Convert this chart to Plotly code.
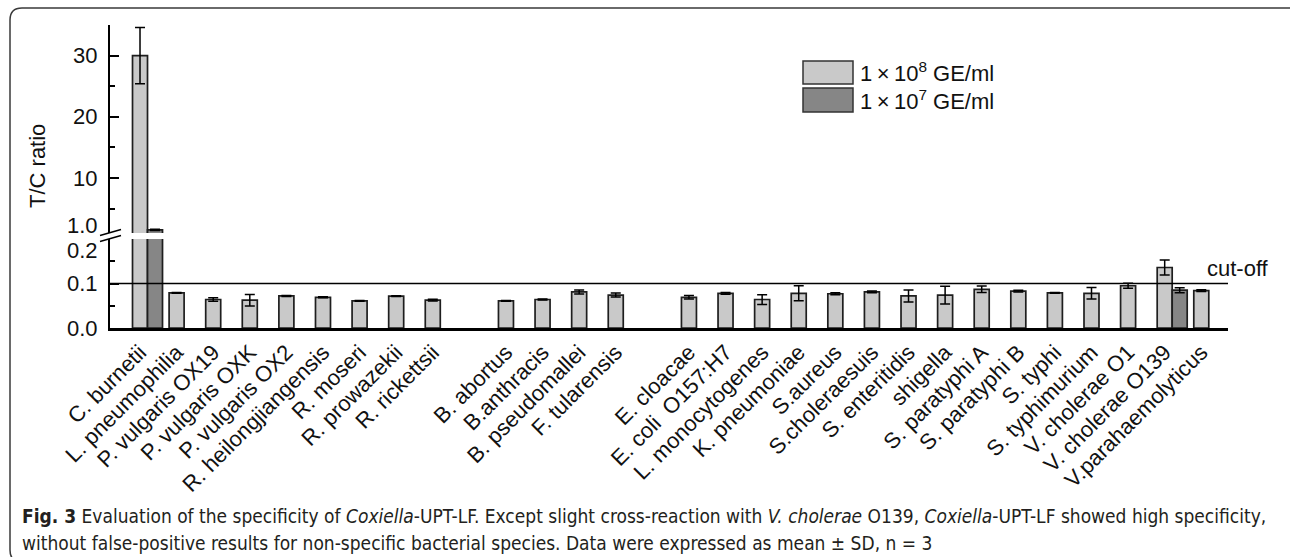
import plotly.graph_objects as go

# ---------------- data ----------------
categories = [
    "C. burnetii", "L. pneumophilia", "P. vulgaris OX19", "P. vulgaris OXK",
    "P. vulgaris OX2", "R. heilongjiangensis", "R. moseri", "R. prowazekii",
    "R. rickettsii", "", "B. abortus", "B.anthracis", "B. pseudomallei",
    "F. tularensis", "", "E. cloacae", "E. coli  O157:H7", "L. monocytogenes",
    "K. pneumoniae", "S.aureus", "S.choleraesuis", "S. enteritidis", "shigella",
    "S. paratyphi A", "S. paratyphi B", "S. typhi", "S. typhimurium",
    "V. cholerae O1", "V. cholerae O139", "V.parahaemolyticus",
]
high_vals = [30.0, 0.079, 0.064, 0.0625, 0.072, 0.069, 0.061, 0.0716, 0.0625, None,
             0.061, 0.064, 0.081, 0.074, None, 0.069, 0.078, 0.064, 0.078, 0.077,
             0.081, 0.072, 0.074, 0.087, 0.083, 0.079, 0.078, 0.095, 0.136, 0.084]
high_err = [4.6, 0.001, 0.004, 0.013, 0.001, 0.001, 0.001, 0.001, 0.002, 0,
            0.001, 0.001, 0.0045, 0.0045, 0, 0.004, 0.002, 0.011, 0.017, 0.002,
            0.002, 0.0135, 0.02, 0.0075, 0.002, 0.001, 0.013, 0.0056, 0.017, 0.002]
low_vals = [1.5] + [None] * 27 + [0.085, None]
low_err = [0.1] + [0] * 27 + [0.0056, 0]
series_names = ["1\u2009×\u200910<sup>8</sup> GE/ml", "1\u2009×\u200910<sup>7</sup> GE/ml"]
lower_ticks = [0, 0.1]
lower_ticktext = ["0.0", "0.1"]
upper_ticks = [10, 20, 30]
upper_ticktext = ["10", "20", "30"]
break_labels = ["1.0", "0.2"]
cutoff = 0.1

# ---------------- layout helpers ----------------
W, H = 1290, 557
L, R, T, B = 110, 62, 25, 229
PW, PH = W - L - R, H - T - B


def px(x):
    return (x - L) / PW


def py(y):
    return (H - B - y) / PH


LIGHT = "#c9c9c9"
DARK = "#868686"
EDGE = "#1e1e1e"
FONT = '"Liberation Sans", Arial, sans-serif'
BW = 0.41

xs = list(range(len(categories)))
tick_x = [i for i, c in enumerate(categories) if c]
tick_t = [c for c in categories if c]

fig = go.Figure()
for yax in ("y", "y2"):
    fig.add_trace(go.Bar(
        x=xs, y=high_vals, width=BW, offset=-BW / 2, xaxis="x", yaxis=yax,
        marker=dict(color=LIGHT, line=dict(color=EDGE, width=1.7)),
        error_y=dict(type="data", array=high_err, color="black", thickness=1.5, width=5),
        showlegend=False, name=series_names[0]))
    fig.add_trace(go.Bar(
        x=xs, y=low_vals, width=BW, offset=BW / 2, xaxis="x", yaxis=yax,
        marker=dict(color=DARK, line=dict(color=EDGE, width=1.7)),
        error_y=dict(type="data", array=low_err, color="black", thickness=1.5, width=5),
        showlegend=False, name=series_names[1]))

lo_top = py(239)
hi_bot = py(233)
axis_common = dict(showline=True, linewidth=2, linecolor="black", ticks="inside",
                   tickwidth=2, ticklen=9, tickcolor="black", showgrid=False,
                   zeroline=False, tickfont=dict(size=22, color="#111", family=FONT),
                   ticklabelstandoff=6)

fig.update_layout(
    width=W, height=H, margin=dict(l=L, r=R, t=T, b=B),
    paper_bgcolor="white", plot_bgcolor="white", barmode="overlay",
    font=dict(family=FONT, color="#111"),
    xaxis=dict(domain=[0, 1], range=[-0.82, 29.73], anchor="y", showline=True,
               linewidth=2.5, linecolor="black", ticks="", showgrid=False,
               zeroline=False, tickmode="array", tickvals=tick_x, ticktext=tick_t,
               tickangle=-45, tickfont=dict(size=22, color="#111", family=FONT)),
    yaxis=dict(domain=[0, lo_top], range=[0, 0.2], anchor="x", tickmode="array",
               tickvals=lower_ticks, ticktext=lower_ticktext,
               minor=dict(tickvals=[0.05, 0.15], ticks="inside", ticklen=5,
                          tickwidth=2, tickcolor="black"),
               **axis_common),
    yaxis2=dict(domain=[hi_bot, 1], range=[1, 35], anchor="x", tickmode="array",
                tickvals=upper_ticks, ticktext=upper_ticktext,
                minor=dict(tickvals=[5, 15, 25, 35], ticks="inside", ticklen=5,
                           tickwidth=2, tickcolor="black"),
                **axis_common),
)

shapes = []
# cut-off line
shapes.append(dict(type="line", xref="x domain", yref="y", x0=0, x1=1, y0=cutoff, y1=cutoff,
                   line=dict(color="black", width=1.6), layer="above"))
# axis break marks
for (y0, y1) in ((235.5, 229.5), (241.5, 235.5)):
    shapes.append(dict(type="line", xref="paper", yref="paper", x0=px(100), x1=px(121),
                       y0=py(y0), y1=py(y1), line=dict(color="black", width=1.5)))
# legend boxes
shapes.append(dict(type="rect", xref="paper", yref="paper", x0=px(803), x1=px(853),
                   y0=py(84), y1=py(61), fillcolor=LIGHT, line=dict(color="#333", width=1.5)))
shapes.append(dict(type="rect", xref="paper", yref="paper", x0=px(803), x1=px(853),
                   y0=py(112), y1=py(88), fillcolor=DARK, line=dict(color="#333", width=1.5)))
# rounded frame
fx0, fy0, fx1, fy1, r = 10, 8, 1300, 562, 12
path = (f"M {px(fx0 + r)},{py(fy0)} L {px(fx1 - r)},{py(fy0)} "
        f"Q {px(fx1)},{py(fy0)} {px(fx1)},{py(fy0 + r)} "
        f"L {px(fx1)},{py(fy1 - r)} Q {px(fx1)},{py(fy1)} {px(fx1 - r)},{py(fy1)} "
        f"L {px(fx0 + r)},{py(fy1)} Q {px(fx0)},{py(fy1)} {px(fx0)},{py(fy1 - r)} "
        f"L {px(fx0)},{py(fy0 + r)} Q {px(fx0)},{py(fy0)} {px(fx0 + r)},{py(fy0)} Z")
shapes.append(dict(type="path", xref="paper", yref="paper", path=path,
                   line=dict(color="#3a3a3a", width=1.5)))
fig.update_layout(shapes=shapes)

ann = []


def add_text(text, x, y, size, xanchor="center", yanchor="middle", angle=0, family=FONT,
             color="#111"):
    ann.append(dict(text=text, x=px(x), y=py(y), xref="paper", yref="paper",
                    xanchor=xanchor, yanchor=yanchor, showarrow=False, textangle=angle,
                    font=dict(size=size, family=family, color=color)))


add_text("T/C ratio", 37, 166, 22, angle=-90)
add_text("cut-off", 1238, 268, 22)
add_text(break_labels[0], 100, 226, 22, xanchor="right")
add_text(break_labels[1], 100, 250, 22, xanchor="right")
for name, yc in zip(series_names, (72.5, 100)):
    add_text(name, 858, yc, 22, xanchor="left")

CAP = '"DejaVu Sans Condensed", "Liberation Sans", sans-serif'
cap1 = ("<b>Fig. 3</b> Evaluation of the specificity of <i>Coxiella</i>-UPT-LF. Except slight "
        "cross-reaction with <i>V. cholerae</i> O139, <i>Coxiella</i>-UPT-LF showed high specificity,")
cap2 = ("without false-positive results for non-specific bacterial species. Data were "
        "expressed as mean ± SD, n = 3")
add_text(cap1, 20, 516, 19, xanchor="left", family=CAP, color="#231f20")
add_text(cap2, 20, 543, 19, xanchor="left", family=CAP, color="#231f20")
fig.update_layout(annotations=ann)

fig.write_html("out.html")
